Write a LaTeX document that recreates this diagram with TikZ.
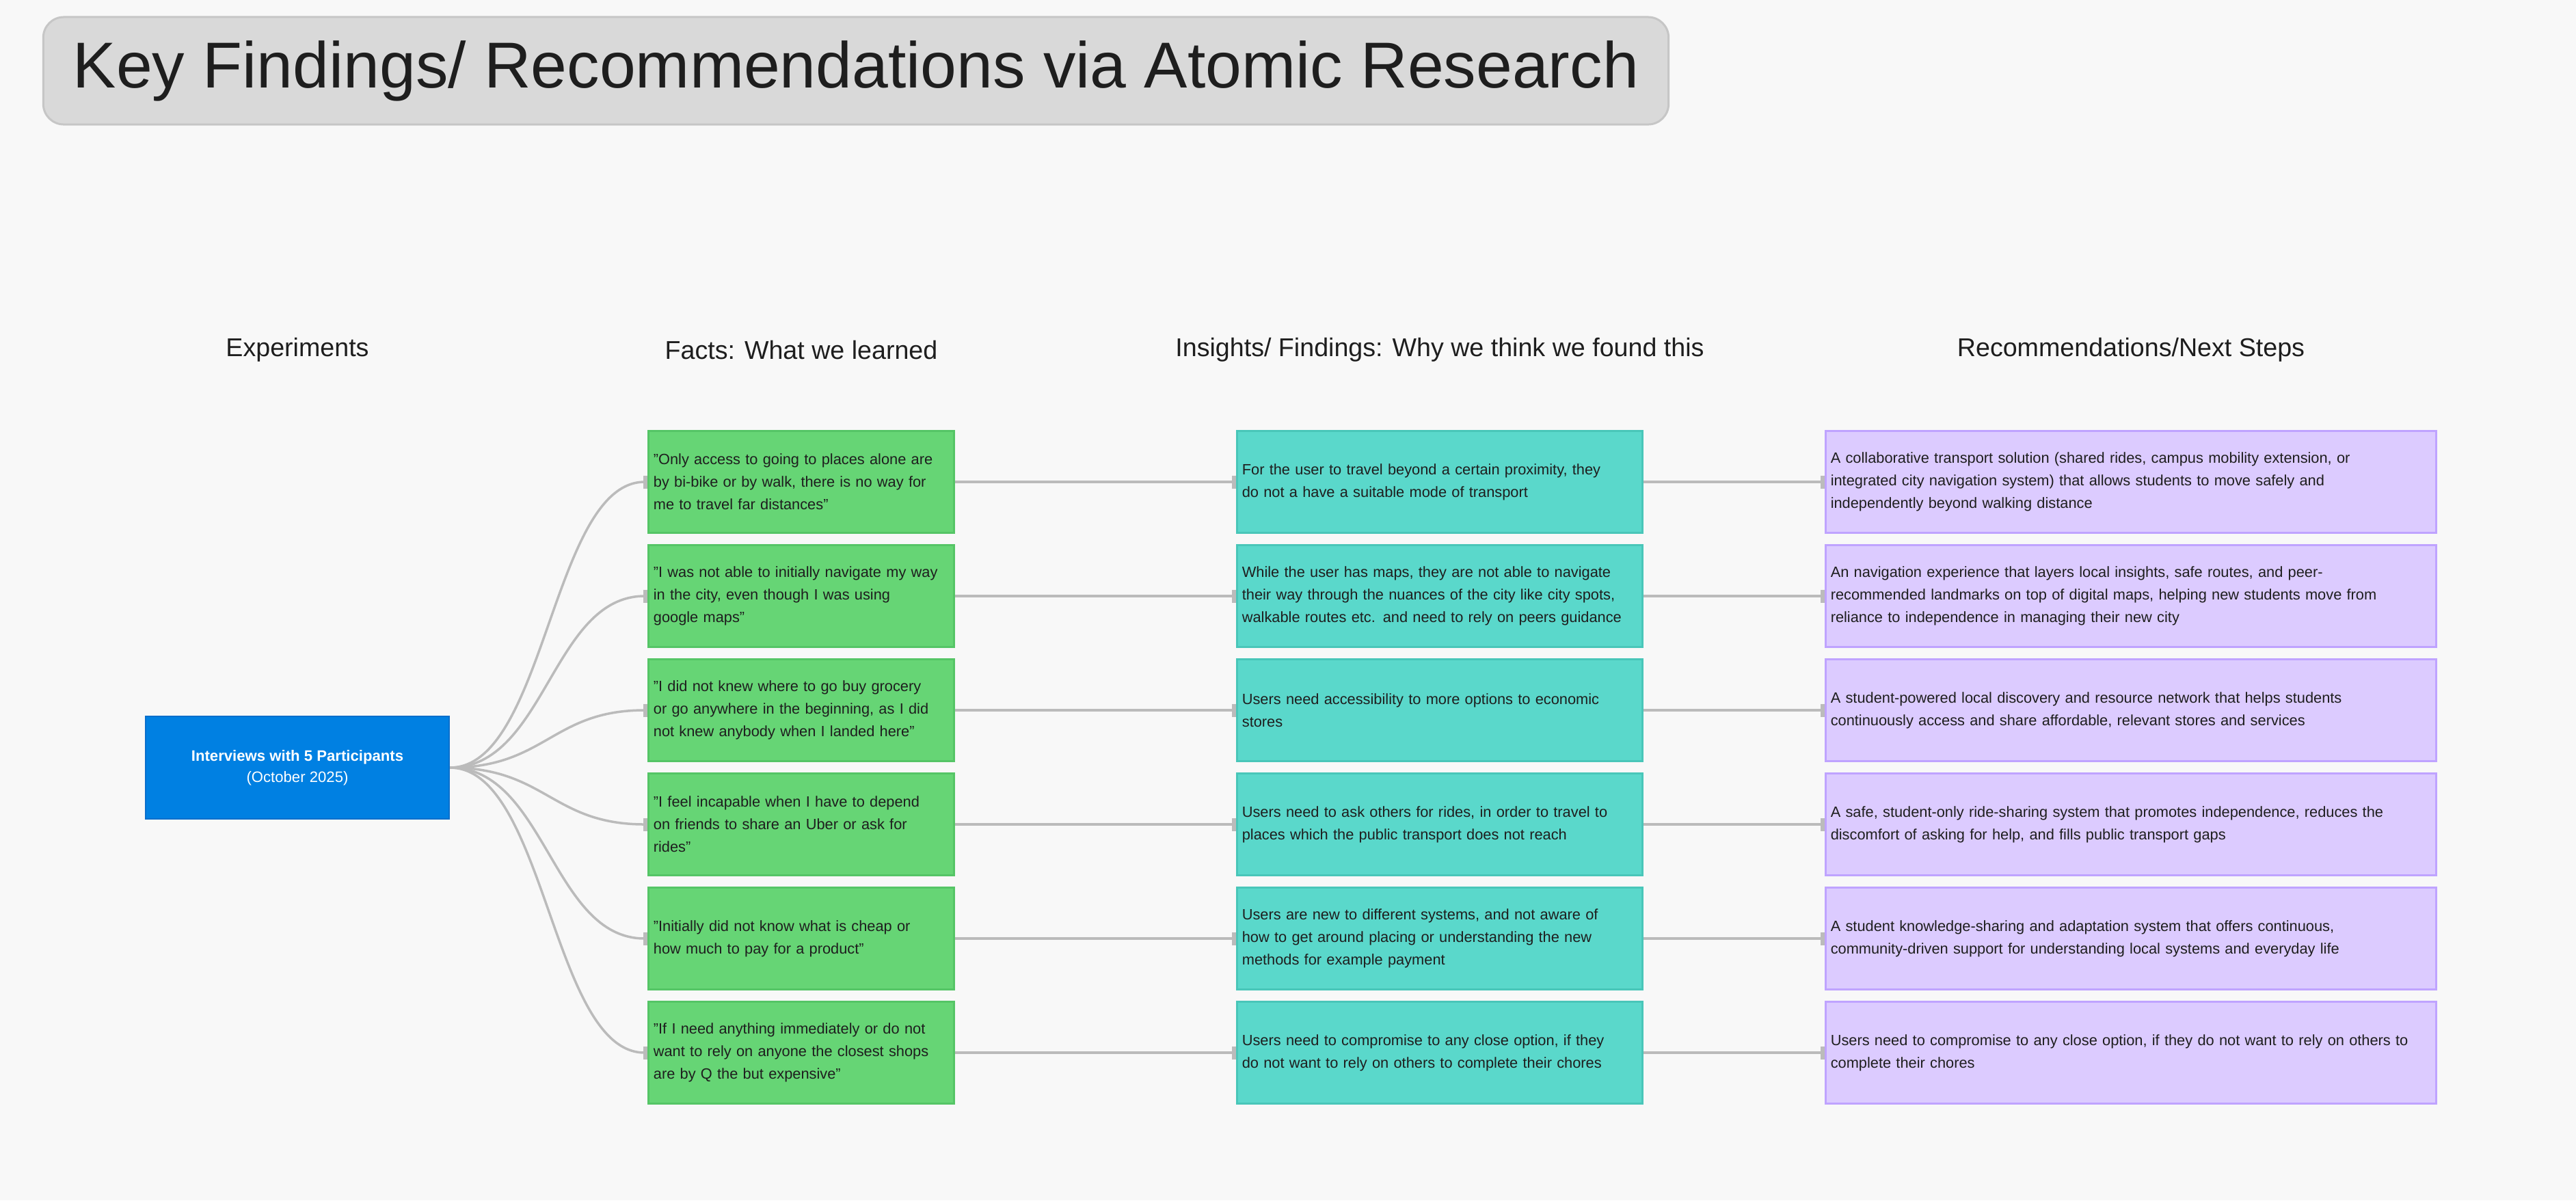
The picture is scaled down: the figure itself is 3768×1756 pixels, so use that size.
\documentclass[tikz,border=0pt]{standalone}
\usepackage{fontspec}
\setmainfont{Liberation Sans}
\usetikzlibrary{arrows.meta}

\definecolor{pagebg}{HTML}{F8F8F8}
\definecolor{titlegrey}{HTML}{D9D9D9}
\definecolor{titleedge}{HTML}{C6C6C6}
\definecolor{inktext}{HTML}{1E1E1E}
\definecolor{expblue}{HTML}{0080E2}
\definecolor{expedge}{HTML}{0A6FCC}
\definecolor{factgreen}{HTML}{66D575}
\definecolor{factedge}{HTML}{55C566}
\definecolor{insteal}{HTML}{5AD8CB}
\definecolor{insedge}{HTML}{49C6B9}
\definecolor{recpurple}{HTML}{DCCBFF}
\definecolor{recedge}{HTML}{BFA3FF}
\definecolor{linkgrey}{HTML}{BBBBBB}

\newcommand{\cardfont}{\fontsize{6.2}{9.4}\selectfont\hyphenpenalty=10000}

\tikzset{
  titlebox/.style={rectangle, rounded corners=0.3cm, fill=titlegrey, draw=titleedge,
    line width=0.03cm, minimum width=23.76cm, minimum height=1.57cm,
    font=\fontsize{27}{32}\selectfont, text=inktext},
  colhead/.style={font=\fontsize{10.7}{13}\selectfont, text=inktext},
  expbox/.style={rectangle, fill=expblue, draw=expedge, line width=0.02cm,
    minimum width=4.44cm, minimum height=1.49cm, align=center, text=white,
    font=\fontsize{6.3}{8.8}\selectfont},
  card/.style={rectangle, line width=0.03cm, minimum height=1.48cm,
    inner xsep=0.07cm, align=left, font=\cardfont, text=inktext},
  fact/.style={card, fill=factgreen, draw=factedge, minimum width=4.46cm, text width=4.32cm},
  insight/.style={card, fill=insteal, draw=insedge, minimum width=5.92cm, text width=5.78cm},
  recom/.style={card, fill=recpurple, draw=recedge, minimum width=8.92cm, text width=8.78cm},
  link/.style={draw=linkgrey, line width=0.035cm, -{Bar[width=1.9mm, line width=0.6mm]}},
}

\begin{document}
\begin{tikzpicture}[x=0.01cm, y=-0.01cm]
  \useasboundingbox (0,0) rectangle (3768,1756);
  \fill[pagebg] (0,0) rectangle (3768,1756);

  % title
  \node[titlebox] (title) at (1252,103.5) {Key Findings/ Recommendations via Atomic Research};

  % column headings
  \node[colhead] (hexp) at (435,512) {Experiments};
  \node[colhead] (hfact) at (1172,512) {Facts: What we learned};
  \node[colhead] (hins) at (2106,512) {Insights/ Findings: Why we think we found this};
  \node[colhead] (hrec) at (3117,512) {Recommendations/Next Steps};

  % experiment
  \node[expbox] (exp) at (435,1123) {{\bfseries Interviews with 5 Participants}\\(October 2025)};

  % facts
  \node[fact] (fact1) at (1172,705) {"Only access to going to places alone are\\by bi-bike or by walk, there is no way for\\me to travel far distances"};
  \node[fact] (fact2) at (1172,872) {"I was not able to initially navigate my way\\in the city, even though I was using\\google maps"};
  \node[fact] (fact3) at (1172,1039) {"I did not knew where to go buy grocery\\or go anywhere in the beginning, as I did\\not knew anybody when I landed here"};
  \node[fact] (fact4) at (1172,1206) {"I feel incapable when I have to depend\\on friends to share an Uber or ask for\\rides"};
  \node[fact] (fact5) at (1172,1373) {"Initially did not know what is cheap or\\how much to pay for a product"};
  \node[fact] (fact6) at (1172,1540) {"If I need anything immediately or do not\\want to rely on anyone the closest shops\\are by Q the but expensive"};

  % insights
  \node[insight] (ins1) at (2106,705) {For the user to travel beyond a certain proximity, they\\do not a have a suitable mode of transport};
  \node[insight] (ins2) at (2106,872) {While the user has maps, they are not able to navigate\\their way through the nuances of the city like city spots,\\walkable routes etc. and need to rely on peers guidance};
  \node[insight] (ins3) at (2106,1039) {Users need accessibility to more options to economic\\stores};
  \node[insight] (ins4) at (2106,1206) {Users need to ask others for rides, in order to travel to\\places which the public transport does not reach};
  \node[insight] (ins5) at (2106,1373) {Users are new to different systems, and not aware of\\how to get around placing or understanding the new\\methods for example payment};
  \node[insight] (ins6) at (2106,1540) {Users need to compromise to any close option, if they\\do not want to rely on others to complete their chores};

  % recommendations
  \node[recom] (rec1) at (3117,705) {A collaborative transport solution (shared rides, campus mobility extension, or\\integrated city navigation system) that allows students to move safely and\\independently beyond walking distance};
  \node[recom] (rec2) at (3117,872) {An navigation experience that layers local insights, safe routes, and peer-\\recommended landmarks on top of digital maps, helping new students move from\\reliance to independence in managing their new city};
  \node[recom] (rec3) at (3117,1039) {A student-powered local discovery and resource network that helps students\\continuously access and share affordable, relevant stores and services};
  \node[recom] (rec4) at (3117,1206) {A safe, student-only ride-sharing system that promotes independence, reduces the\\discomfort of asking for help, and fills public transport gaps};
  \node[recom] (rec5) at (3117,1373) {A student knowledge-sharing and adaptation system that offers continuous,\\community-driven support for understanding local systems and everyday life};
  \node[recom] (rec6) at (3117,1540) {Users need to compromise to any close option, if they do not want to rely on others to\\complete their chores};

  % connectors
  \foreach \i in {1,...,6}
  {
    \draw[link] (exp.east) .. controls +(1.4cm,0cm) and +(-1.4cm,0cm) .. (fact\i.west);
    \draw[link] (fact\i.east) -- (ins\i.west);
    \draw[link] (ins\i.east) -- (rec\i.west);
  }
\end{tikzpicture}
\end{document}
